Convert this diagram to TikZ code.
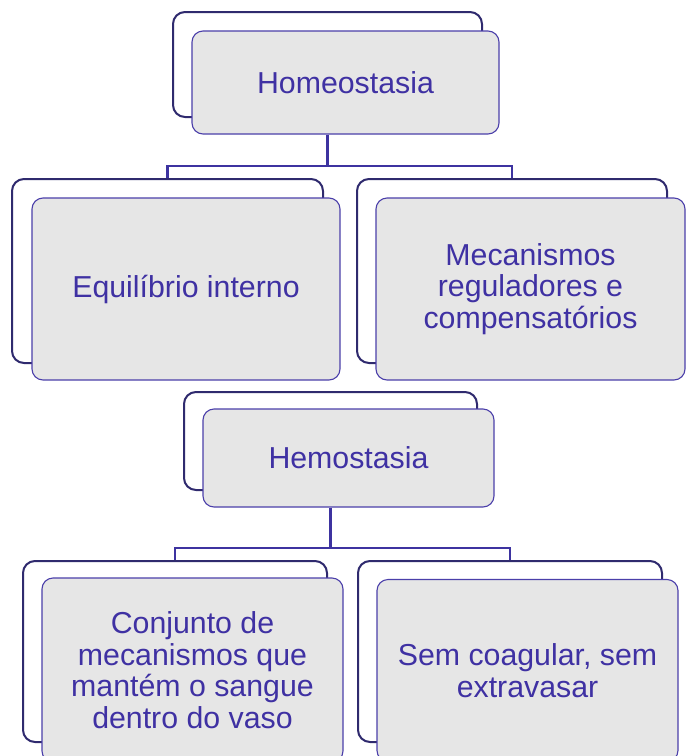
\documentclass[tikz,border=0pt]{standalone}
\usepackage{fontspec}
\setmainfont{Liberation Sans}
\definecolor{txtc}{HTML}{3F31A3}
\definecolor{frontline}{HTML}{4B3FAA}
\definecolor{backline}{HTML}{2F2A6E}
\definecolor{frontfill}{HTML}{E6E6E6}
\definecolor{linkc}{HTML}{3D33A0}
\tikzset{
  backbox/.style 2 args={draw=backline, line width=2pt, fill=white, rounded corners=12pt,
    inner sep=0pt, minimum width=#1pt, minimum height=#2pt},
  frontbox/.style 2 args={draw=frontline, line width=1.1pt, fill=frontfill, rounded corners=11pt,
    inner sep=0pt, minimum width=#1pt, minimum height=#2pt, text=txtc, align=center,
    font=\fontsize{30.3}{31.6}\selectfont},
  link/.style={draw=linkc, line width=2.2pt}
}
\begin{document}
\begin{tikzpicture}[x=1pt,y=-1pt]
\useasboundingbox (0,0) rectangle (689,756);
\clip (0,0) rectangle (689,756);
% top
\node[backbox={309}{105}] (hb) at (327.5,64.5) {};
\node[frontbox={307}{103}] (hf) at (345.5,82.5) {Homeostasia};
% row 2
\node[backbox={311}{184}] (eb) at (167.5,271) {};
\node[frontbox={308}{182}] (ef) at (186,289) {Equilíbrio interno};
\node[backbox={310}{184}] (mb) at (512,271) {};
\node[frontbox={309}{182}] (mf) at (530.5,289) {Mecanismos\\reguladores e\\compensatórios};
% hemostasia
\node[backbox={293}{98}] (sb) at (330.5,441) {};
\node[frontbox={291}{98}] (sf) at (348.5,458) {Hemostasia};
% row 4
\node[backbox={304}{181}] (cb) at (175,651.5) {};
\node[frontbox={301}{184}] (cf) at (192.5,670) {Conjunto de\\mecanismos que\\mantém o sangue\\dentro do vaso};
\node[backbox={304}{181}] (xb) at (510,651.5) {};
\node[frontbox={301}{182}] (xf) at (527.5,670.5) {Sem coagular, sem\\extravasar};
% connectors
\coordinate (j1) at (327.5,166);
\draw[link] (hf.south -| hb.south) -- (j1);
\draw[link] (eb.north) -- (eb.north |- j1) -- (mb.north |- j1) -- (mb.north);
\coordinate (j2) at (330.5,548);
\draw[link] (sf.south -| sb.south) -- (j2);
\draw[link] (cb.north) -- (cb.north |- j2) -- (xb.north |- j2) -- (xb.north);
\end{tikzpicture}
\end{document}
